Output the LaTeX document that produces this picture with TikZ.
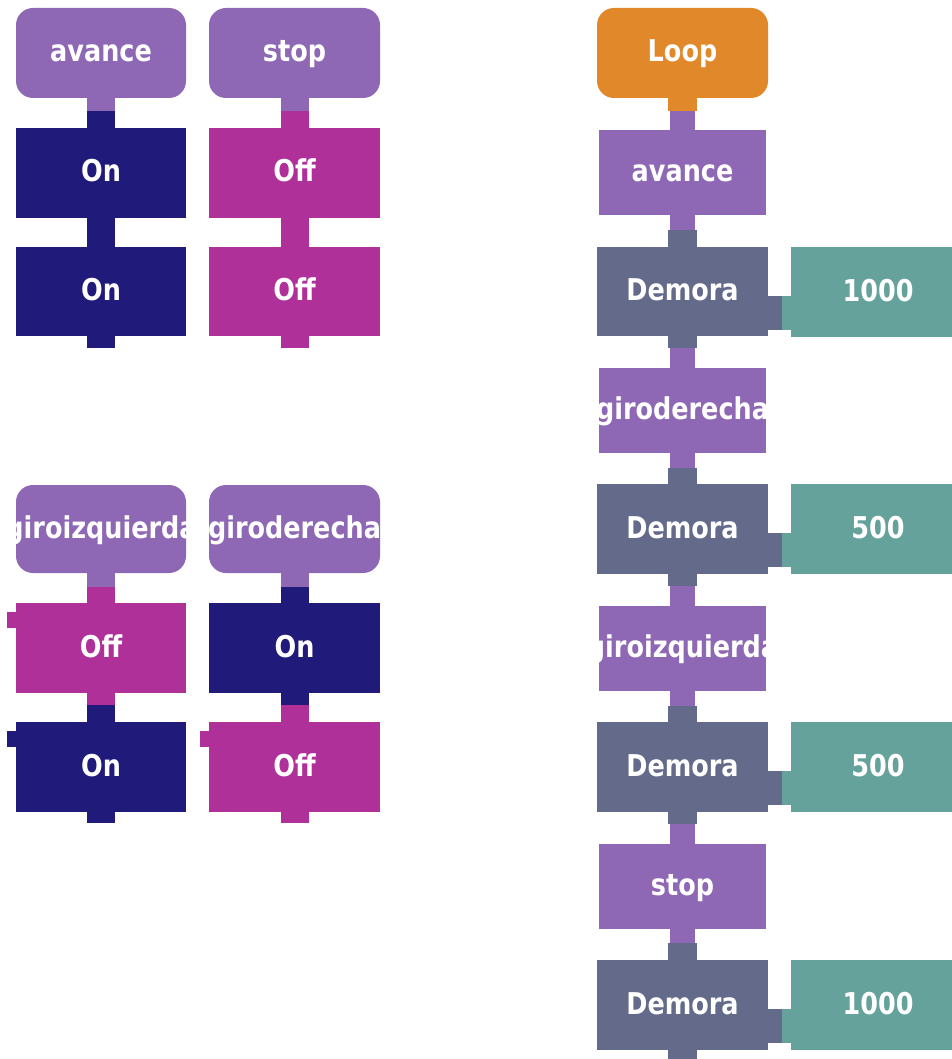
\documentclass[tikz,border=0pt]{standalone}
\usepackage{fontspec}
\setmainfont{DejaVu Sans}
\usepackage{graphicx}
\definecolor{lp}{HTML}{8E68B4}
\definecolor{navy}{HTML}{201A7A}
\definecolor{mag}{HTML}{B0309A}
\definecolor{orng}{HTML}{E0882A}
\definecolor{slate}{HTML}{636A8A}
\definecolor{teal2}{HTML}{66A29C}
\tikzset{
  txt/.style={text=white, font=\fontsize{30}{36}\selectfont\bfseries, inner sep=0pt, anchor=base},
  blk/.style={rectangle, inner sep=0pt, draw=none,
    path picture={\node[txt] at ([yshift=-9pt]path picture bounding box.center) {\scalebox{0.85}[1]{#1}};}},
  hat/.style={rounded corners=17pt},
}
\newcommand\mkblk[7]{\node[blk={#7}, fill=#6, minimum width={(#4-#2)*1pt}, minimum height={(#5-#3)*1pt}] (#1) at ({(#2+#4)/2},{(#3+#5)/2}) {};}
% tab below / above a node: node, colour, half width, height
\newcommand\tabdown[4]{\fill[#2] ([xshift=-#3pt]#1.south) rectangle ([xshift=#3pt,yshift=-#4pt]#1.south);}
\newcommand\tabup[4]{\fill[#2] ([xshift=-#3pt]#1.north) rectangle ([xshift=#3pt,yshift=#4pt]#1.north);}
\newcommand\tableft[2]{\fill[#2] ([xshift=-9pt,yshift=-9pt]#1.north west) rectangle ([yshift=-25pt]#1.north west);}
\newcommand\notch[2]{%
  \fill[slate] ([yshift=-49pt]#1.north east) rectangle ([xshift=14pt,yshift=-83pt]#1.north east);
  \fill[teal2] ([xshift=-9pt,yshift=-49pt]#2.north west) rectangle ([yshift=-83pt]#2.north west);}
\begin{document}
\begin{tikzpicture}[x=1pt,y=-1pt]
\clip (0,0) rectangle (952,1059);
\fill[white] (0,0) rectangle (952,1059);
% ---- group A (top left)
\mkblk{hA}{16}{8}{186}{98}{lp,hat}{avance}
\mkblk{onA1}{16}{128}{186}{218}{navy}{On}
\mkblk{onA2}{16}{247}{186}{336}{navy}{On}
\tabdown{hA}{lp}{14}{13}
\tabup{onA1}{navy}{14}{17}
\tabdown{onA1}{navy}{14}{13}
\tabup{onA2}{navy}{14}{16}
\tabdown{onA2}{navy}{14}{12}
% ---- group B (top)
\mkblk{hB}{209}{8}{380}{98}{lp,hat}{stop}
\mkblk{offB1}{209}{128}{380}{218}{mag}{Off}
\mkblk{offB2}{209}{247}{380}{336}{mag}{Off}
\tabdown{hB}{lp}{14}{13}
\tabup{offB1}{mag}{14}{17}
\tabdown{offB1}{mag}{14}{13}
\tabup{offB2}{mag}{14}{16}
\tabdown{offB2}{mag}{14}{12}
% ---- group C (bottom left)
\mkblk{hC}{16}{485}{186}{573}{lp,hat}{giroizquierda}
\mkblk{offC}{16}{603}{186}{693}{mag}{Off}
\mkblk{onC}{16}{722}{186}{812}{navy}{On}
\tabdown{hC}{lp}{14}{14}
\tabup{offC}{mag}{14}{16}
\tabdown{offC}{mag}{14}{12}
\tabup{onC}{navy}{14}{17}
\tabdown{onC}{navy}{14}{11}
\tableft{offC}{mag}
\tableft{onC}{navy}
% ---- group D (bottom)
\mkblk{hD}{209}{485}{380}{573}{lp,hat}{giroderecha}
\mkblk{onD}{209}{603}{380}{693}{navy}{On}
\mkblk{offD}{209}{722}{380}{812}{mag}{Off}
\tabdown{hD}{lp}{14}{14}
\tabup{onD}{navy}{14}{16}
\tabdown{onD}{navy}{14}{12}
\tabup{offD}{mag}{14}{17}
\tabdown{offD}{mag}{14}{11}
\tableft{offD}{mag}
% ---- program
\mkblk{loop}{597}{8}{768}{98}{orng,hat}{Loop}
\mkblk{pav}{599}{130}{766}{215}{lp}{avance}
\mkblk{d1}{597}{247}{768}{336}{slate}{Demora}
\mkblk{v1}{791}{247}{965}{337}{teal2}{1000}
\mkblk{pgd}{599}{368}{766}{453}{lp}{giroderecha}
\mkblk{d2}{597}{484}{768}{574}{slate}{Demora}
\mkblk{v2}{791}{484}{965}{574}{teal2}{500}
\mkblk{pgi}{599}{606}{766}{691}{lp}{giroizquierda}
\mkblk{d3}{597}{722}{768}{812}{slate}{Demora}
\mkblk{v3}{791}{722}{965}{812}{teal2}{500}
\mkblk{pst}{599}{844}{766}{929}{lp}{stop}
\mkblk{d4}{597}{960}{768}{1050}{slate}{Demora}
\mkblk{v4}{791}{960}{965}{1050}{teal2}{1000}
\tabdown{loop}{orng}{14.5}{13}
\tabup{pav}{lp}{12.5}{19}
\tabdown{pav}{lp}{12.5}{15}
\tabup{d1}{slate}{14.5}{17}
\tabdown{d1}{slate}{14.5}{12}
\tabup{pgd}{lp}{12.5}{20}
\tabdown{pgd}{lp}{12.5}{15}
\tabup{d2}{slate}{14.5}{16}
\tabdown{d2}{slate}{14.5}{12}
\tabup{pgi}{lp}{12.5}{20}
\tabdown{pgi}{lp}{12.5}{15}
\tabup{d3}{slate}{14.5}{16}
\tabdown{d3}{slate}{14.5}{12}
\tabup{pst}{lp}{12.5}{20}
\tabdown{pst}{lp}{12.5}{14}
\tabup{d4}{slate}{14.5}{17}
\tabdown{d4}{slate}{14.5}{12}
\notch{d1}{v1}
\notch{d2}{v2}
\notch{d3}{v3}
\notch{d4}{v4}
\end{tikzpicture}
\end{document}
